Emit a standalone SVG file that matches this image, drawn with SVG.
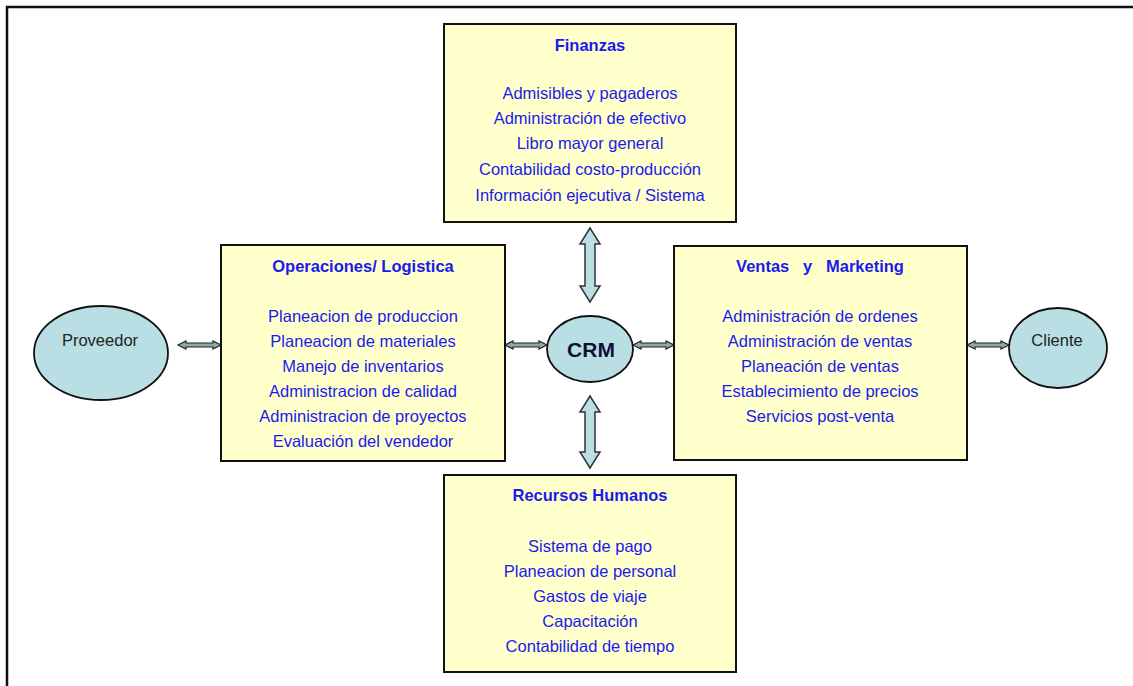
<svg xmlns="http://www.w3.org/2000/svg" width="1133" height="686" viewBox="0 0 1133 686">
<defs>
<style>
.box{fill:#ffffcc;stroke:#111;stroke-width:2}
.ell{fill:#b9dfe4;stroke:#111;stroke-width:1.8}
.t{font-family:"Liberation Sans",Arial,sans-serif;font-size:16.5px;fill:#1a1aee;text-anchor:middle}
.h{font-weight:bold;white-space:pre}
.e{font-family:"Liberation Sans",Arial,sans-serif;font-size:16.5px;fill:#222;text-anchor:middle}
.crm{font-family:"Liberation Sans",Arial,sans-serif;font-size:21px;font-weight:bold;fill:#111133;text-anchor:middle}
.va{fill:#b9dfe4;stroke:#333;stroke-width:1.5;stroke-linejoin:miter}
.ha{fill:#8fa8a8;stroke:#222;stroke-width:1.2}
</style>
</defs>
<rect width="1133" height="686" fill="#fff"/>
<g id="frame">
<line x1="6" y1="7" x2="1133" y2="7" stroke="#111" stroke-width="2.5"/>
<line x1="7" y1="6" x2="7" y2="686" stroke="#111" stroke-width="2.5"/>
</g>
<g id="connectors">
<polygon class="va" points="590,228 600,244 595,244 595,286 600,286 590,302 580,286 585,286 585,244 580,244"/>
<polygon class="va" points="590,396 600,412 595,412 595,452 600,452 590,468 580,452 585,452 585,412 580,412"/>
<polygon class="ha" points="178,345 186,341 186,343 213,343 213,341 221,345 213,349 213,347 186,347 186,349"/>
<polygon class="ha" points="505,345 513,341 513,343 539,343 539,341 547,345 539,349 539,347 513,347 513,349"/>
<polygon class="ha" points="633,345 641,341 641,343 666,343 666,341 674,345 666,349 666,347 641,347 641,349"/>
<polygon class="ha" points="967,345 975,341 975,343 1001,343 1001,341 1009,345 1001,349 1001,347 975,347 975,349"/>
</g>
<g id="finanzas">
<rect class="box" x="444" y="24" width="292" height="198"/>
<text class="t h" x="590" y="51">Finanzas</text>
<text class="t" x="590" y="99">Admisibles y pagaderos</text>
<text class="t" x="590" y="124">Administración de efectivo</text>
<text class="t" x="590" y="149">Libro mayor general</text>
<text class="t" x="590" y="175">Contabilidad costo-producción</text>
<text class="t" x="590" y="201">Información ejecutiva / Sistema</text>
</g>
<g id="operaciones">
<rect class="box" x="221" y="245" width="284" height="216"/>
<text class="t h" x="363" y="272">Operaciones/ Logistica</text>
<text class="t" x="363" y="322">Planeacion de produccion</text>
<text class="t" x="363" y="347">Planeacion de materiales</text>
<text class="t" x="363" y="372">Manejo de inventarios</text>
<text class="t" x="363" y="397">Administracion de calidad</text>
<text class="t" x="363" y="422">Administracion de proyectos</text>
<text class="t" x="363" y="447">Evaluación del vendedor</text>
</g>
<g id="ventas">
<rect class="box" x="674" y="246" width="293" height="214"/>
<text class="t h" x="820" y="272">Ventas   y   Marketing</text>
<text class="t" x="820" y="322">Administración de ordenes</text>
<text class="t" x="820" y="347">Administración de ventas</text>
<text class="t" x="820" y="372">Planeación de ventas</text>
<text class="t" x="820" y="397">Establecimiento de precios</text>
<text class="t" x="820" y="422">Servicios post-venta</text>
</g>
<g id="rrhh">
<rect class="box" x="444" y="475" width="292" height="197"/>
<text class="t h" x="590" y="501">Recursos Humanos</text>
<text class="t" x="590" y="552">Sistema de pago</text>
<text class="t" x="590" y="577">Planeacion de personal</text>
<text class="t" x="590" y="602">Gastos de viaje</text>
<text class="t" x="590" y="627">Capacitación</text>
<text class="t" x="590" y="652">Contabilidad de tiempo</text>
</g>
<g id="crm">
<ellipse class="ell" cx="590" cy="349" rx="43" ry="33"/>
<text class="crm" x="591" y="357">CRM</text>
</g>
<g id="proveedor">
<ellipse class="ell" cx="101" cy="353" rx="67" ry="47"/>
<text class="e" x="100" y="346">Proveedor</text>
</g>
<g id="cliente">
<ellipse class="ell" cx="1058" cy="348" rx="49" ry="40"/>
<text class="e" x="1057" y="346">Cliente</text>
</g>
</svg>
